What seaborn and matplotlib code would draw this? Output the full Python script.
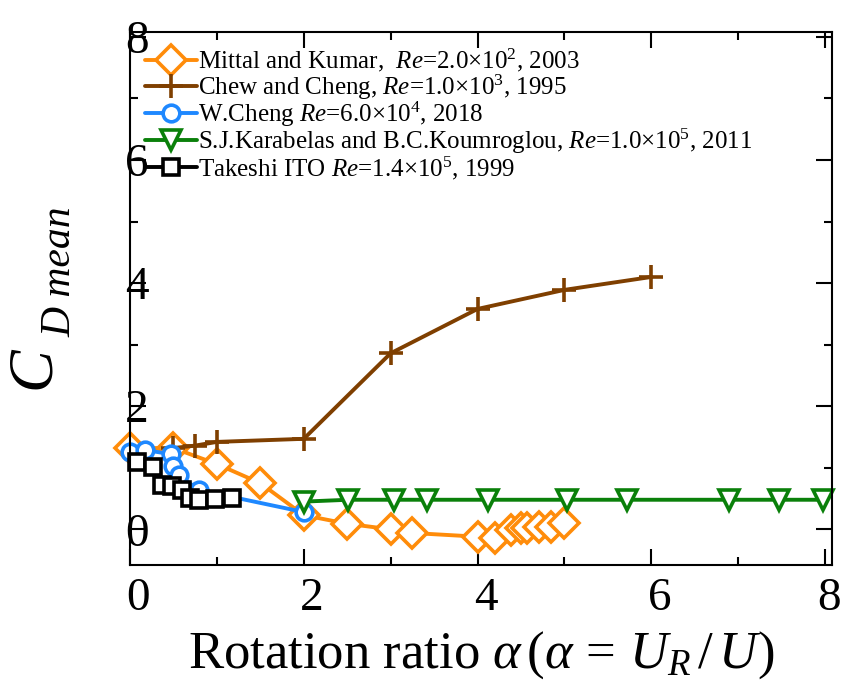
import matplotlib
matplotlib.use("Agg")
import numpy as np
import pandas as pd
import seaborn as sns
import matplotlib.pyplot as plt
from matplotlib.transforms import ScaledTranslation
from matplotlib.ticker import MultipleLocator

# ---- data ----
mittal_x = [0.0, 0.5, 1.0, 1.5, 2.0, 2.5, 3.0, 3.25, 4.0, 4.2, 4.38, 4.5, 4.57, 4.71, 4.85, 5.0]
mittal_y = [1.32, 1.32, 1.06, 0.75, 0.23, 0.09, 0.0, -0.06, -0.12, -0.14, -0.01, 0.02, 0.02, 0.04, 0.03, 0.10]

chew_x = [0.5, 0.75, 1.0, 2.0, 3.0, 4.0, 5.0, 6.0]
chew_y = [1.32, 1.36, 1.42, 1.47, 2.86, 3.58, 3.89, 4.10]

cheng_x = [0.0, 0.17, 0.47, 0.50, 0.56, 0.79, 2.0]
cheng_y = [1.26, 1.29, 1.22, 1.03, 0.88, 0.64, 0.28]

karab_x = [2.0, 2.51, 3.04, 3.42, 4.12, 5.03, 5.72, 6.89, 7.47, 7.98]
karab_y = [0.45, 0.48, 0.48, 0.48, 0.48, 0.48, 0.48, 0.48, 0.48, 0.48]

ito_x = [0.08, 0.27, 0.37, 0.48, 0.60, 0.69, 0.79, 0.98, 1.17]
ito_y = [1.09, 1.02, 0.72, 0.70, 0.64, 0.51, 0.48, 0.49, 0.51]

labels = [
    r"Mittal and Kumar,  $\mathit{Re}$=2.0×10$^{2}$, 2003",
    r"Chew and Cheng, $\mathit{Re}$=1.0×10$^{3}$, 1995",
    r"W.Cheng $\mathit{Re}$=6.0×10$^{4}$, 2018",
    r"S.J.Karabelas and B.C.Koumroglou, $\mathit{Re}$=1.0×10$^{5}$, 2011",
    r"Takeshi ITO $\mathit{Re}$=1.4×10$^{5}$, 1999",
]
x_ticks = [0, 2, 4, 6, 8]
y_ticks = [0, 2, 4, 6, 8]

# ---- style ----
sns.set_theme(style="ticks")
plt.rcParams["font.family"] = ["Liberation Serif", "DejaVu Serif"]
plt.rcParams["mathtext.fontset"] = "custom"
plt.rcParams["mathtext.rm"] = "Liberation Serif"
plt.rcParams["mathtext.it"] = "Liberation Serif:italic"
plt.rcParams["mathtext.bf"] = "Liberation Serif:bold"
for key in ["text.color", "axes.labelcolor", "xtick.color", "ytick.color",
            "axes.edgecolor", "xtick.labelcolor", "ytick.labelcolor"]:
    plt.rcParams[key] = "black"
plt.rcParams["axes.linewidth"] = 1.5

fig = plt.figure(figsize=(8.44, 6.82), dpi=100)
ax = fig.add_axes([130 / 844, 1 - 565 / 682, 702 / 844, 533 / 682])

series = [
    (mittal_x, mittal_y, "#FF8C0A", "D", 15),
    (chew_x, chew_y, "#7F3F00", "+", 17),
    (cheng_x, cheng_y, "#1E88FF", "o", 12),
    (karab_x, karab_y, "#0A800A", "v", 14),
    (ito_x, ito_y, "black", "s", 12),
]

for (xs, ys, col, mk, ms), lab in zip(series, labels):
    df = pd.DataFrame({"x": xs, "y": ys})
    sns.lineplot(data=df, x="x", y="y", ax=ax, color=col, marker=mk,
                 markersize=ms, markerfacecolor="white", markeredgecolor=col,
                 markeredgewidth=2.6, linewidth=2.8, label=lab,
                 estimator=None, sort=False, legend=False, clip_on=False)

ax.set_xlim(0, 8.08)
ax.set_ylim(-0.58, 8.08)
ax.set_xticks(x_ticks)
ax.set_yticks(y_ticks)
ax.set_xticklabels([str(v) for v in x_ticks])
ax.set_yticklabels([str(v) for v in y_ticks])
ax.xaxis.set_minor_locator(MultipleLocator(1))
ax.yaxis.set_minor_locator(MultipleLocator(1))
ax.tick_params(which="both", direction="in", top=True, right=True,
               color="black", labelcolor="black", width=1.5, labelsize=34)
ax.tick_params(which="major", length=11.5)
ax.tick_params(which="minor", length=6)
ax.tick_params(axis="x", pad=9)
ax.tick_params(axis="y", pad=-5)
for lab in ax.get_yticklabels():
    lab.set_ha("center")
off = ScaledTranslation(8 / 100, 0, fig.dpi_scale_trans)
for lab in ax.get_xticklabels()[:-1]:
    lab.set_transform(lab.get_transform() + off)
last = ax.get_xticklabels()[-1]
last.set_transform(last.get_transform() + ScaledTranslation(4 / 100, 0, fig.dpi_scale_trans))
for s in ax.spines.values():
    s.set_visible(True)
    s.set_color("black")
    s.set_linewidth(1.5)

ax.set_xlabel(r"Rotation ratio $\alpha\,(\alpha\,=\,U_R\,/\,U)$", fontsize=38)
ax.xaxis.set_label_coords(0.5, -0.12)
ax.set_ylabel("")

# y label: C with a small italic subscript
fig.text(34 / 844, 1 - 368 / 682, "C", fontsize=46, style="italic",
         rotation=90, ha="center", va="center")
fig.text(60 / 844, 1 - 272 / 682, "D mean", fontsize=30, style="italic",
         rotation=90, ha="center", va="center")

leg = ax.legend(loc="upper left", bbox_to_anchor=(0.021, 0.972), frameon=False,
                fontsize=18, handlelength=2.1, handletextpad=0.05,
                labelspacing=-0.08, borderpad=0, borderaxespad=0)

fig.savefig("out.png", dpi=100)
